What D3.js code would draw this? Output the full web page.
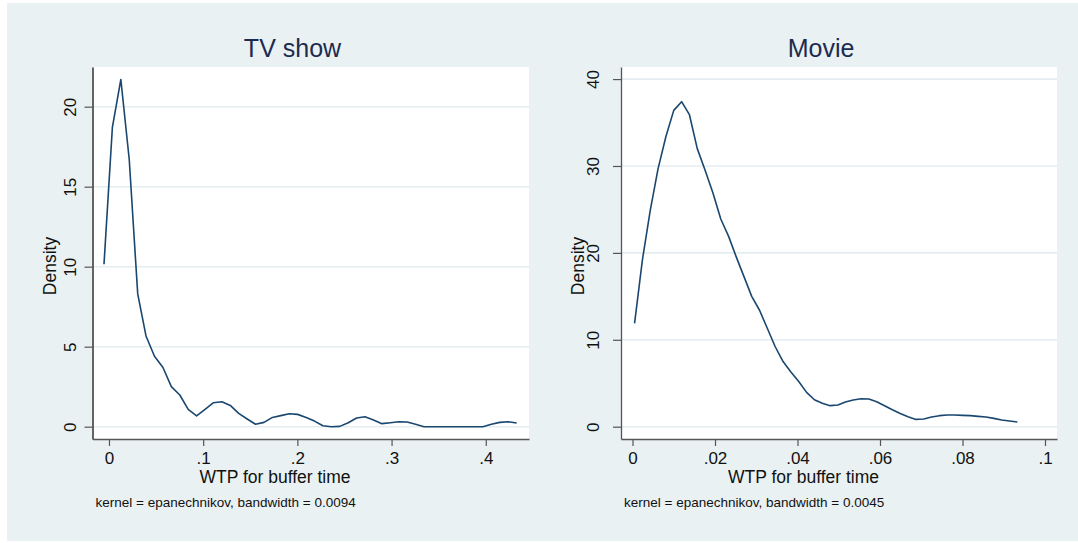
<!DOCTYPE html>
<html>
<head>
<meta charset="utf-8">
<script src="https://cdnjs.cloudflare.com/ajax/libs/d3/7.8.5/d3.min.js"></script>
<style>
  body { margin: 0; background: #fff; }
  text { font-family: "Liberation Sans", Arial, sans-serif; }
</style>
</head>
<body>
<script>
// kernel density estimates (50 points each)
const tvX = [-0.0053, 0.0036, 0.0126, 0.0215, 0.0305, 0.0394, 0.0483, 0.0573, 0.0662, 0.0752,
    0.0841, 0.0930, 0.1020, 0.1109, 0.1199, 0.1288, 0.1377, 0.1467, 0.1556, 0.1646,
    0.1735, 0.1824, 0.1914, 0.2003, 0.2093, 0.2182, 0.2271, 0.2361, 0.2450, 0.2540,
    0.2629, 0.2718, 0.2808, 0.2897, 0.2987, 0.3076, 0.3165, 0.3255, 0.3344, 0.3434,
    0.3523, 0.3612, 0.3702, 0.3791, 0.3881, 0.3970, 0.4059, 0.4149, 0.4238, 0.4328]
const tvDensity = [10.15, 18.7, 21.7, 16.7, 8.3, 5.65, 4.4, 3.7, 2.5, 1.98,
    1.08, 0.67, 1.08, 1.5, 1.56, 1.33, 0.83, 0.48, 0.15, 0.27,
    0.58, 0.69, 0.81, 0.77, 0.58, 0.35, 0.06, 0, 0.02, 0.25,
    0.54, 0.62, 0.42, 0.19, 0.25, 0.31, 0.29, 0.15, 0, 0,
    0, 0, 0, 0, 0, 0, 0.15, 0.27, 0.31, 0.23]

const movieX = [0.0005, 0.0024, 0.0043, 0.0062, 0.0081, 0.0100, 0.0119, 0.0138, 0.0157, 0.0176,
    0.0195, 0.0214, 0.0233, 0.0251, 0.0270, 0.0289, 0.0308, 0.0327, 0.0346, 0.0365,
    0.0384, 0.0403, 0.0422, 0.0441, 0.0460, 0.0479, 0.0498, 0.0516, 0.0535, 0.0554,
    0.0573, 0.0592, 0.0611, 0.0630, 0.0649, 0.0668, 0.0687, 0.0706, 0.0725, 0.0744,
    0.0763, 0.0781, 0.0800, 0.0819, 0.0838, 0.0857, 0.0876, 0.0895, 0.0914, 0.0933]
const movieDensity = [11.9, 19.2, 24.9, 29.7, 33.4, 36.4, 37.4, 35.9, 32.0, 29.5,
    26.9, 23.9, 21.9, 19.6, 17.3, 15.0, 13.4, 11.3, 9.2, 7.5,
    6.3, 5.2, 3.95, 3.1, 2.69, 2.42, 2.49, 2.84, 3.07, 3.22,
    3.18, 2.88, 2.42, 1.96, 1.53, 1.15, 0.84, 0.88, 1.11, 1.27,
    1.34, 1.34, 1.30, 1.27, 1.19, 1.11, 0.96, 0.77, 0.65, 0.54]

// ticks and labels
const tvXTicks = [0, 0.1, 0.2, 0.3, 0.4]
const tvXLabels = ['0', '.1', '.2', '.3', '.4']
const tvYTicks = [0, 5, 10, 15, 20]
const tvYLabels = ['0', '5', '10', '15', '20']
const movieXTicks = [0, 0.02, 0.04, 0.06, 0.08, 0.1]
const movieXLabels = ['0', '.02', '.04', '.06', '.08', '.1']
const movieYTicks = [0, 10, 20, 30, 40]
const movieYLabels = ['0', '10', '20', '30', '40']

const titles = ['TV show', 'Movie']
const xTitle = 'WTP for buffer time'
const yTitle = 'Density'
const notes = ['kernel = epanechnikov, bandwidth = 0.0094', 'kernel = epanechnikov, bandwidth = 0.0045']

// size of svg
const w = 1078
const h = 543
const plotTop = 67
const plotBottom = 439

const lineColor = '#1a476f'
const bgColor = '#e9f1f3'
const gridColor = '#e4edf0'

const panels = [
    { title: titles[0], xs: tvX, ys: tvDensity, xTicks: tvXTicks, xLabels: tvXLabels,
      yTicks: tvYTicks, yLabels: tvYLabels, note: notes[0],
      left: 92.5, right: 529, xDomain: [-0.0175, 0.4459], yDomain: [-0.769, 22.48],
      yLabelOff: 17, yAxisColor: '#111' },
    { title: titles[1], xs: movieX, ys: movieDensity, xTicks: movieXTicks, xLabels: movieXLabels,
      yTicks: movieYTicks, yLabels: movieYLabels, note: notes[1],
      left: 621, right: 1057, xDomain: [-0.00279, 0.10291], yDomain: [-1.415, 41.39],
      yLabelOff: 22.5, yAxisColor: '#555' }
]

let svg = d3.select('body')
    .append('svg')
    .attr('width', w)
    .attr('height', h)

// graph region background
svg.append('rect')
    .attr('x', 7)
    .attr('y', 3)
    .attr('width', w - 7)
    .attr('height', 538)
    .attr('fill', bgColor)

panels.forEach(p => {
    const xScale = d3.scaleLinear().domain(p.xDomain).range([p.left, p.right])
    const yScale = d3.scaleLinear().domain(p.yDomain).range([plotBottom, plotTop])

    // white plot region
    svg.append('rect')
        .attr('x', p.left)
        .attr('y', plotTop)
        .attr('width', p.right - p.left)
        .attr('height', plotBottom - plotTop)
        .attr('fill', '#fff')

    // horizontal grid lines
    svg.append('g')
        .selectAll('line')
        .data(p.yTicks)
        .enter()
        .append('line')
        .attr('x1', p.left)
        .attr('x2', p.right)
        .attr('y1', d => yScale(d))
        .attr('y2', d => yScale(d))
        .attr('stroke', gridColor)
        .attr('stroke-width', 1.6)

    // density curve
    const line = d3.line()
        .x((d, i) => xScale(p.xs[i]))
        .y(d => yScale(d))

    svg.append('path')
        .datum(p.ys)
        .attr('d', line)
        .attr('fill', 'none')
        .attr('stroke', lineColor)
        .attr('stroke-width', 1.6)
        .attr('stroke-linejoin', 'round')

    // y axis with rotated labels
    const yAxis = d3.axisLeft(yScale)
        .tickValues(p.yTicks)
        .tickSize(8)
        .tickSizeOuter(0)
        .tickFormat((d, i) => p.yLabels[i])

    const gy = svg.append('g')
        .attr('transform', `translate(${p.left},0)`)
        .call(yAxis)
    gy.select('.domain').attr('stroke', p.yAxisColor).attr('stroke-width', 1.3)
    gy.selectAll('.tick line').attr('stroke', '#555').attr('stroke-width', 1.2)
    gy.selectAll('.tick text')
        .attr('x', 0)
        .attr('y', -p.yLabelOff)
        .attr('dy', 0)
        .attr('transform', 'rotate(-90)')
        .attr('text-anchor', 'middle')
        .attr('fill', '#111')
        .style('font-size', '17px')
        .style('font-family', '"Liberation Sans", Arial, sans-serif')

    // x axis
    const xAxis = d3.axisBottom(xScale)
        .tickValues(p.xTicks)
        .tickSize(7)
        .tickSizeOuter(0)
        .tickFormat((d, i) => p.xLabels[i])

    const gx = svg.append('g')
        .attr('transform', `translate(0,${plotBottom})`)
        .call(xAxis)
    gx.select('.domain').attr('stroke', '#555').attr('stroke-width', 1.3)
    gx.selectAll('.tick line').attr('stroke', '#555').attr('stroke-width', 1.2)
    gx.selectAll('.tick text')
        .attr('y', 24.7)
        .attr('dy', 0)
        .attr('fill', '#111')
        .style('font-size', '17px')
        .style('font-family', '"Liberation Sans", Arial, sans-serif')

    // panel title
    svg.append('text')
        .attr('x', p.left + 200)
        .attr('y', 56.7)
        .attr('text-anchor', 'middle')
        .attr('fill', '#1c2b4f')
        .style('font-size', '25px')
        .text(p.title)

    // axis titles
    svg.append('text')
        .attr('x', p.left + 182.5)
        .attr('y', 483.3)
        .attr('text-anchor', 'middle')
        .attr('fill', '#111')
        .style('font-size', '17.5px')
        .text(xTitle)

    svg.append('text')
        .attr('transform', `translate(${p.left - 37},266) rotate(-90)`)
        .attr('text-anchor', 'middle')
        .attr('fill', '#111')
        .style('font-size', '17.5px')
        .text(yTitle)

    // kernel note
    svg.append('text')
        .attr('x', p.left + 3)
        .attr('y', 507.3)
        .attr('fill', '#111')
        .style('font-size', '13.5px')
        .text(p.note)
})
</script>
</body>
</html>
